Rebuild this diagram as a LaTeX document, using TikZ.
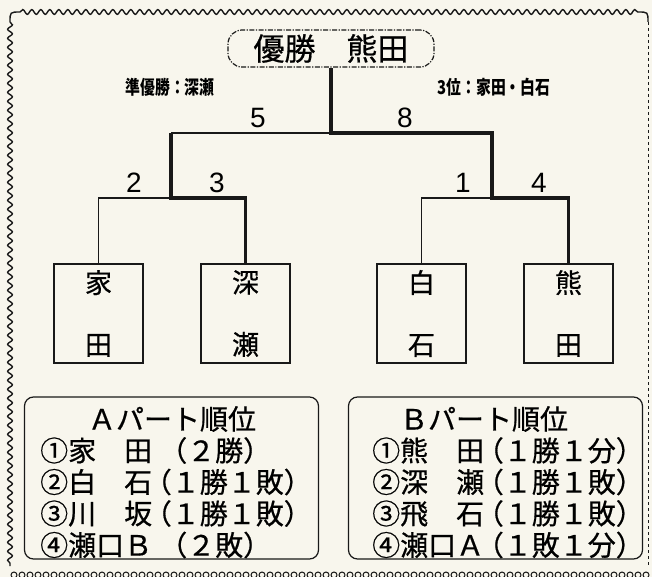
\documentclass[tikz,border=0pt]{standalone}
\usepackage{graphicx}
\usepackage{fontspec}
\setmainfont{Noto Sans CJK JP}
\newfontfamily\rowfont[FakeBold=0.6]{Noto Sans CJK JP}
\newfontfamily\numfont{Liberation Sans}
\definecolor{paper}{RGB}{248,246,237}
\definecolor{ink}{RGB}{25,25,25}
\usetikzlibrary{positioning,decorations.pathmorphing}

\begin{document}
\begin{tikzpicture}[x=1pt, y=-1pt,
    player/.style={rectangle, draw=ink, line width=1.2pt, minimum width=89pt, minimum height=99pt, align=center, inner sep=0pt, font=\rowfont\fontsize{27}{62}\selectfont},
    titlebox/.style={rectangle, draw=ink, line width=1.2pt, rounded corners=14pt, dash pattern=on 5pt off 1.5pt on 1.2pt off 1.5pt, minimum width=206pt, minimum height=37pt, inner sep=0pt, font=\rowfont\fontsize{31}{31}\selectfont},
    score/.style={inner sep=0pt, font=\numfont\fontsize{28}{28}\selectfont},
    note/.style={inner sep=0pt, font=\bfseries\fontsize{19}{19}\selectfont},
    partbox/.style={rectangle, draw=ink, line width=1.2pt, rounded corners=9pt, minimum width=294pt, minimum height=162pt},
    row/.style={anchor=west, inner sep=0pt, font=\rowfont\fontsize{28}{28}\selectfont},
    thinline/.style={draw=ink, line width=1.1pt},
    midline/.style={draw=ink, line width=1.9pt},
    winline/.style={draw=ink, line width=3.6pt, line join=miter},
    wave/.style={draw=ink, line width=1.4pt, decorate, decoration={snake, segment length=9pt, amplitude=2.4pt}}
]
\fill[paper] (0,0) rectangle (652,577);
\useasboundingbox (0,0) rectangle (652,577);

\draw[wave] (20,12) -- (638,12);
\draw[wave] (10,22) -- (10,566);
\draw[ink, line width=1.4pt] (10,22) .. controls (10,12) .. (20,12);
\draw[ink, line width=1.4pt] (638,12) .. controls (648,12) .. (648,22);
\draw[ink, line width=0.9pt, dash pattern=on 3pt off 3pt] (648,22) -- (648,566);
\foreach \x in {14,22,...,646}
    \draw[ink, line width=1pt] (\x,575) circle (3pt);

\node[titlebox] (champion) at (331,48.5) {優勝　熊田};
\node[note] (runnerup) at (170,87) {\scalebox{0.78}[1]{準優勝：深瀬}};
\node[note] (third) at (494,87) {\scalebox{0.78}[1]{3位：家田・白石}};

\node[player] (ieda) at (98.5,313.5) {家\\田};
\node[player] (fukase) at (245.5,313.5) {深\\瀬};
\node[player] (shiraishi) at (421.5,313.5) {白\\石};
\node[player] (kumada) at (568.5,313.5) {熊\\田};

\coordinate (semiA) at (171,198);
\coordinate (semiB) at (492,198);
\coordinate (final) at (331,133);

\draw[thinline] (ieda.north) |- (semiA);
\draw[thinline] (shiraishi.north) |- (semiB);
\draw[midline] (semiA |- final) -- (final);
\draw[winline] (fukase.north) |- (semiA) -- (semiA |- final);
\draw[winline] (kumada.north) |- (semiB) -- (semiB |- final) -- (final) -- (champion.south);

\node[score] (s5) at (258,118) {5};
\node[score] (s8) at (405,118) {8};
\node[score] (s2) at (134,183) {2};
\node[score] (s3) at (217,183) {3};
\node[score] (s1) at (463,183) {1};
\node[score] (s4) at (539,183) {4};

\node[partbox] (partA) at (171.5,478) {};
\node[partbox] (partB) at (495.5,478) {};
\node[row, anchor=center] (headA) at (172,419) {Ａパート順位};
\node[row, anchor=center] (headB) at (484,419) {Ｂパート順位};
\foreach \txt [count=\i] in {{①家　田\kern0.25em（２勝）}, {②白　石\kern-0.3em（１勝１敗）}, {③川　坂\kern-0.3em（１勝１敗）}, {④瀬口Ｂ\kern0.25em（２敗）}}
    \node[row] (a\i) at (40,419+31.5*\i) {\txt};
\foreach \txt [count=\i] in {{①熊　田\kern-0.3em（１勝１分）}, {②深　瀬\kern-0.3em（１勝１敗）}, {③飛　石\kern-0.3em（１勝１敗）}, {④瀬口Ａ\kern-0.3em（１敗１分）}}
    \node[row] (b\i) at (372,419+31.5*\i) {\txt};
\end{tikzpicture}
\end{document}
